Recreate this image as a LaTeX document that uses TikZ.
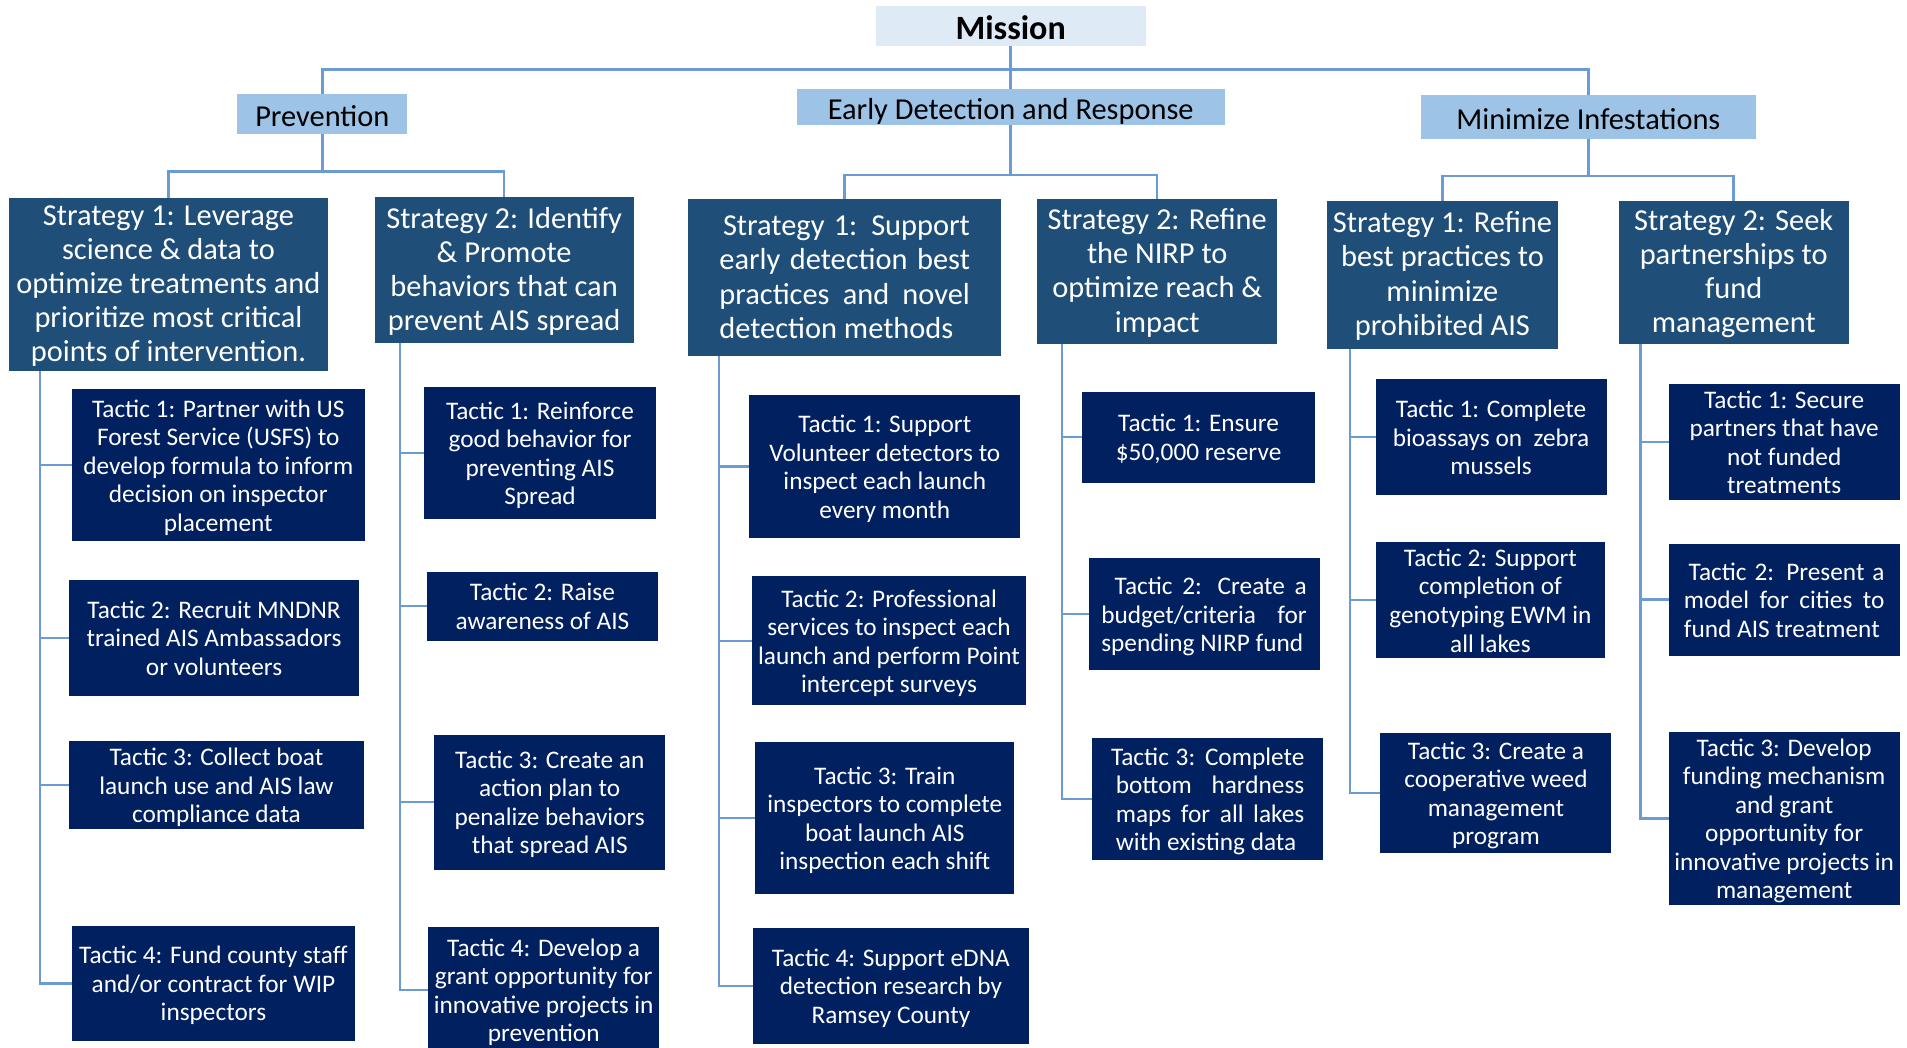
\documentclass[tikz,border=0pt]{standalone}
\usepackage{fontspec}
\setmainfont{Carlito}
\usetikzlibrary{calc}

\definecolor{missionfill}{HTML}{DEEBF7}
\definecolor{goalfill}{HTML}{9DC3E6}
\definecolor{stratfill}{HTML}{1F4E79}
\definecolor{tacfill}{HTML}{002060}
\definecolor{linkblue}{HTML}{6A9BD3}

% \topH and \botD fix the height of the first line and the depth of the last one,
% so that the text block sits at the same place in every box of a kind
\tikzset{
  box/.style={inner sep=0pt, outer sep=0pt, align=center},
  missionbox/.style={box, fill=missionfill, font=\fontsize{14}{16}\selectfont\bfseries\def\topH{13pt}\def\botD{1.8pt}},
  goalbox/.style={box, fill=goalfill, font=\fontsize{12.5}{14}\selectfont\def\topH{12pt}\def\botD{1.2pt}},
  stratbox/.style={box, fill=stratfill, text=white, font=\fontsize{12.5}{14}\selectfont\def\topH{10.5pt}\def\botD{3pt}},
  tacbox/.style={box, fill=tacfill, text=white, font=\fontsize{10.4}{11.75}\selectfont\def\topH{10pt}\def\botD{2.6pt}},
  leftbox/.style={align=left},
  link/.style={draw=linkblue, line width=1pt},
}

% box from corner (x1,y1) to corner (x2,y2), y growing downwards
\newcommand\bx[7]{\node[#1, minimum width={(#5-#3)*0.5pt}, minimum height={(#6-#4)*0.5pt}] (#2) at ({(#3+#5)/2},{(#4+#6)/2}) {\rule{0pt}{\topH}#7\rule[-\botD]{0pt}{0pt}};}
% a justified line of given width
\newcommand\jl[2]{\makebox[#1][s]{#2}}

\begin{document}
\begin{tikzpicture}[x=0.5pt, y=-0.5pt]
\useasboundingbox (0,0) rectangle (1568,861);

% mission and goals
\bx{missionbox}{mission}{720}{5}{942}{38}{Mission}
\bx{goalbox}{prev}{195}{77}{335}{110}{Prevention}
\bx{goalbox}{edr}{655}{73}{1007}{103}{Early Detection and Response}
\bx{goalbox}{mini}{1168}{78}{1444}{114}{Minimize Infestations}

% strategies
\bx{stratbox}{P1}{7}{163}{270}{305}{Strategy 1: Leverage\\science \& data to\\optimize treatments and\\prioritize most critical\\points of intervention.}
\bx{stratbox}{P2}{308}{162}{521}{282}{Strategy 2: Identify\\\& Promote\\behaviors that can\\prevent AIS spread}
\bx{stratbox,leftbox}{E1}{566}{164}{823}{293}{\hspace*{1.5pt}\jl{101.5pt}{Strategy 1: Support}\\\jl{103pt}{early detection best}\\\jl{103pt}{practices and novel}\\detection methods}
\bx{stratbox}{E2}{853}{164}{1050}{283}{Strategy 2: Refine\\the NIRP to\\optimize reach \&\\impact}
\bx{stratbox}{M1}{1091}{165}{1281}{287}{Strategy 1: Refine\\best practices to\\minimize\\prohibited AIS}
\bx{stratbox}{M2}{1331}{165}{1520}{283}{Strategy 2: Seek\\partnerships to\\fund\\management}

% prevention tactics
\bx{tacbox}{P1T1}{59}{320}{300}{445}{Tactic 1: Partner with US\\Forest Service (USFS) to\\develop formula to inform\\decision on inspector\\placement}
\bx{tacbox}{P1T2}{57}{477}{295}{572}{Tactic 2: Recruit MNDNR\\trained AIS Ambassadors\\or volunteers}
\bx{tacbox}{P1T3}{57}{609}{299}{682}{Tactic 3: Collect boat\\launch use and AIS law\\compliance data}
\bx{tacbox}{P1T4}{59}{761}{292}{856}{Tactic 4: Fund county staff\\and/or contract for WIP\\inspectors}
\bx{tacbox}{P2T1}{349}{318}{539}{427}{Tactic 1: Reinforce\\good behavior for\\preventing AIS\\Spread}
\bx{tacbox}{P2T2}{351}{470}{541}{527}{Tactic 2: Raise\\awareness of AIS}
\bx{tacbox}{P2T3}{357}{604}{547}{715}{Tactic 3: Create an\\action plan to\\penalize behaviors\\that spread AIS}
\bx{tacbox}{P2T4}{352}{762}{542}{866}{Tactic 4: Develop a\\grant opportunity for\\innovative projects in\\prevention}

% early detection tactics
\bx{tacbox}{E1T1}{616}{325}{839}{442}{Tactic 1: Support\\Volunteer detectors to\\inspect each launch\\every month}
\bx{tacbox}{E1T2}{618}{474}{844}{580}{Tactic 2: Professional\\services to inspect each\\launch and perform Point\\intercept surveys}
\bx{tacbox}{E1T3}{621}{610}{834}{735}{Tactic 3: Train\\inspectors to complete\\boat launch AIS\\inspection each shift}
\bx{tacbox}{E1T4}{619}{763}{846}{858}{Tactic 4: Support eDNA\\detection research by\\Ramsey County}
\bx{tacbox}{E2T1}{890}{322}{1081}{397}{Tactic 1: Ensure\\\$50,000 reserve}
\bx{tacbox,leftbox}{E2T2}{895}{459}{1085}{551}{\hspace*{5.5pt}\jl{79pt}{Tactic 2: Create a}\\\jl{84.5pt}{budget/criteria for}\\spending NIRP fund}
\bx{tacbox,leftbox}{E2T3}{898}{607}{1088}{707}{\jl{79.5pt}{Tactic 3: Complete}\\\hspace*{2pt}\jl{77.5pt}{bottom hardness}\\\hspace*{2pt}\jl{77.5pt}{maps for all lakes}\\\hspace*{2pt}with existing data}

% infestation tactics
\bx{tacbox}{M1T1}{1131}{312}{1321}{407}{Tactic 1: Complete\\bioassays on\ \ zebra\\mussels}
\bx{tacbox}{M1T2}{1131}{446}{1320}{541}{Tactic 2: Support\\completion of\\genotyping EWM in\\all lakes}
\bx{tacbox}{M1T3}{1135}{603}{1325}{701}{Tactic 3: Create a\\cooperative weed\\management\\program}
\bx{tacbox}{M2T1}{1372}{316}{1562}{411}{Tactic 1: Secure\\partners that have\\not funded\\treatments}
\bx{tacbox,leftbox}{M2T2}{1372}{447}{1562}{539}{\hspace*{2pt}\jl{80.5pt}{Tactic 2: Present a}\\\jl{82.5pt}{model for cities to}\\fund AIS treatment}
\bx{tacbox}{M2T3}{1372}{603}{1562}{743}{Tactic 3: Develop\\funding mechanism\\and grant\\opportunity for\\innovative projects in\\management}

% mission to goals
\draw[link] (mission.south) -- ++(0,19) coordinate (mj);
\draw[link] (prev.north) |- (mj) -| (mini.north);
\draw[link] (mj) -- (edr.north);

% goals to strategies
\draw[link] (prev.south) -- ++(0,31) coordinate (pj);
\draw[link] (P1.north) |- (pj) -| (P2.north);
\draw[link] (edr.south) -- ++(0,41) coordinate (ej);
\draw[link] (E1.north) |- (ej) -| (E2.north);
\draw[link] (mini.south) -- ++(0,30.5) coordinate (ij);
\draw[link] (M1.north) |- (ij) -| (M2.north);

% strategies to tactics
\foreach \st/\dx/\nt in {P1/13pt/4, P2/10.5pt/4, E1/12.5pt/4, E2/10pt/3, M1/9.5pt/3, M2/9pt/3}
  \foreach \k in {1,...,\nt}
    \draw[link] ([xshift=\dx]\st.south west) |- (\st T\k.west);
\end{tikzpicture}
\end{document}
